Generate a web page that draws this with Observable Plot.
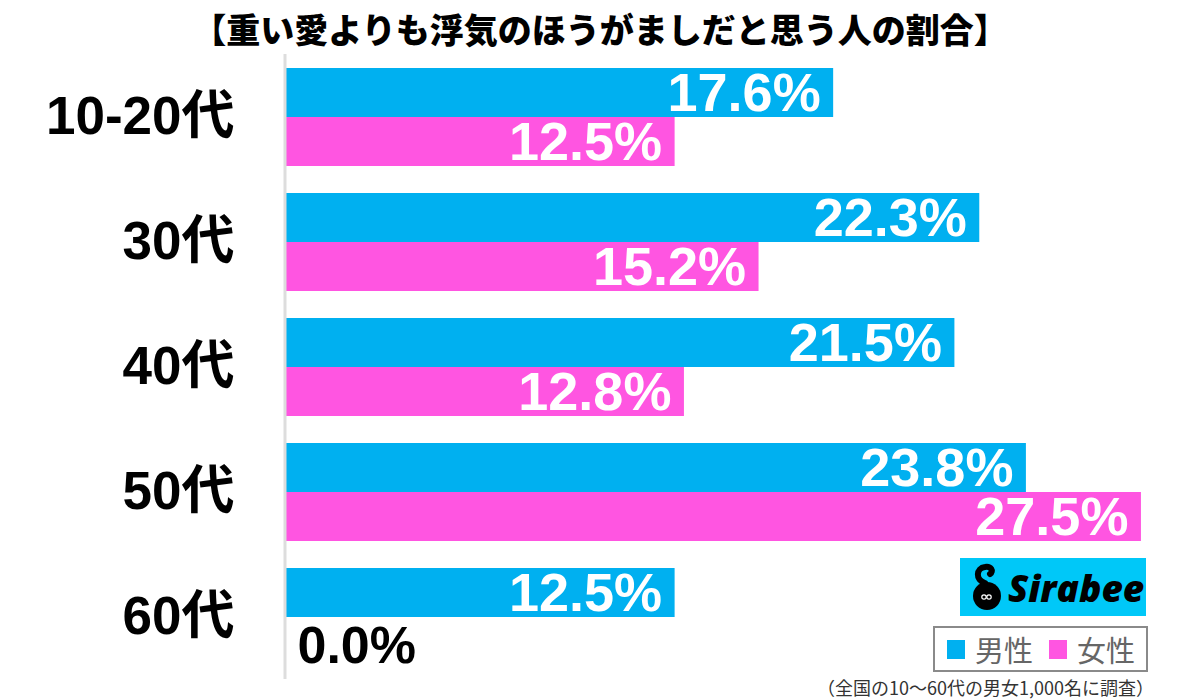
<!DOCTYPE html>
<html>
<head>
<meta charset="utf-8">
<script src="https://cdn.jsdelivr.net/npm/d3@7"></script>
<script src="https://cdn.jsdelivr.net/npm/@observablehq/plot@0.6"></script>
<style>
  html, body { margin: 0; padding: 0; background: #fff; }
  body { width: 1200px; height: 699px; position: relative; overflow: hidden;
         font-family: "Liberation Sans", "Noto Sans CJK JP", sans-serif; }
  #title { height: 52px; line-height: 58px; text-align: center; font-size: 34px; font-weight: 900;
           font-family: "Noto Sans CJK JP", sans-serif; color: #000; white-space: nowrap; }
  #chart svg { display: block; }
  #chart svg [aria-label^="fy-axis"] text { font-size: 53px; font-weight: bold; fill: #000; }
  #logo { position: absolute; left: 960px; top: 558px; width: 186px; height: 58px; background: #00c8f8;
          display: flex; align-items: center; }
  #logo span { font-family: "Open Sans", "Liberation Sans", sans-serif; font-weight: 800; font-style: italic;
               font-size: 37px; color: #000; margin-left: 4px; letter-spacing: 0px; }
  #legend { position: absolute; left: 933px; top: 626px; width: 215px; height: 46px; box-sizing: border-box;
            border: 2px solid #8a8a8a; display: flex; align-items: center; padding-left: 12px;
            font-family: "Noto Sans CJK JP", sans-serif; font-size: 29px; color: #666; white-space: nowrap; }
  #legend .sw { width: 18px; height: 19px; display: inline-block; margin-right: 10px; flex: none; }
  #legend .item { display: flex; align-items: center; margin-right: 16px; line-height: 1; flex: none; white-space: nowrap; }
  #caption { position: absolute; right: 46px; top: 674px; font-family: "Noto Sans CJK JP", sans-serif;
             font-size: 18px; color: #333; white-space: nowrap; }
</style>
</head>
<body>
<div id="title">【重い愛よりも浮気のほうがましだと思う人の割合】</div>
<div id="chart"></div>
<div id="logo">
  <svg width="44" height="58" viewBox="0 0 44 58">
    <circle cx="27" cy="38" r="14" fill="#000"/>
    <path d="M25 25 C 15 22, 16 10, 25 9 C 31 8, 34 13, 30 16" fill="none" stroke="#000" stroke-width="6" stroke-linecap="round"/>
    <circle cx="24" cy="39" r="2.2" fill="none" stroke="#fff" stroke-width="1.2"/>
    <circle cx="29" cy="39" r="2.2" fill="none" stroke="#fff" stroke-width="1.2"/>
  </svg>
  <span>Sirabee</span>
</div>
<div id="legend"></div>
<div id="caption">（全国の10～60代の男女1,000名に調査）</div>
<script>
const ages = ["10-20代", "30代", "40代", "50代", "60代"];
const male = [17.6, 22.3, 21.5, 23.8, 12.5];
const female = [12.5, 15.2, 12.8, 27.5, 0.0];
const sexes = ["男性", "女性"];
const colors = ["#00b0f0", "#ff55e1"];

const rows = ages.flatMap((a, i) => [
  {age: a, sex: sexes[0], v: male[i]},
  {age: a, sex: sexes[1], v: female[i]}
]);

const chart = Plot.plot({
  width: 1200,
  height: 633,
  marginLeft: 286,
  marginRight: 0,
  marginTop: 13,
  marginBottom: 16,
  style: {fontFamily: "'Liberation Sans', 'Noto Sans CJK JP', sans-serif", background: "#fff"},
  x: {domain: [0, 29.4], axis: null},
  y: {domain: sexes, padding: 0, axis: null},
  fy: {domain: ages, paddingInner: 0.2063, paddingOuter: 0, label: null, tickSize: 0, tickPadding: 52},
  color: {domain: sexes, range: colors},
  marks: [
    Plot.barX(rows, {fy: "age", y: "sex", x: "v", fill: "sex"}),
    Plot.ruleX([0], {stroke: "#dddddd", strokeWidth: 3, dx: -1.5, insetTop: -13, insetBottom: -13}),
    Plot.text(rows, {filter: d => d.v > 0, fy: "age", y: "sex", x: "v",
      text: d => d.v.toFixed(1) + "%", textAnchor: "end", dx: -13, dy: 1,
      fill: "white", fontSize: 54, fontWeight: "bold"}),
    Plot.text(rows, {filter: d => d.v === 0, fy: "age", y: "sex", x: "v",
      text: d => d.v.toFixed(1) + "%", textAnchor: "start", dx: 11, dy: 4,
      fill: "black", fontSize: 52, fontWeight: "bold"})
  ]
});
document.getElementById("chart").appendChild(chart);

const legend = document.getElementById("legend");
sexes.forEach((s, i) => {
  const item = document.createElement("div");
  item.className = "item";
  const sw = document.createElement("span");
  sw.className = "sw";
  sw.style.background = colors[i];
  item.appendChild(sw);
  item.appendChild(document.createTextNode(s));
  legend.appendChild(item);
});
</script>
</body>
</html>
